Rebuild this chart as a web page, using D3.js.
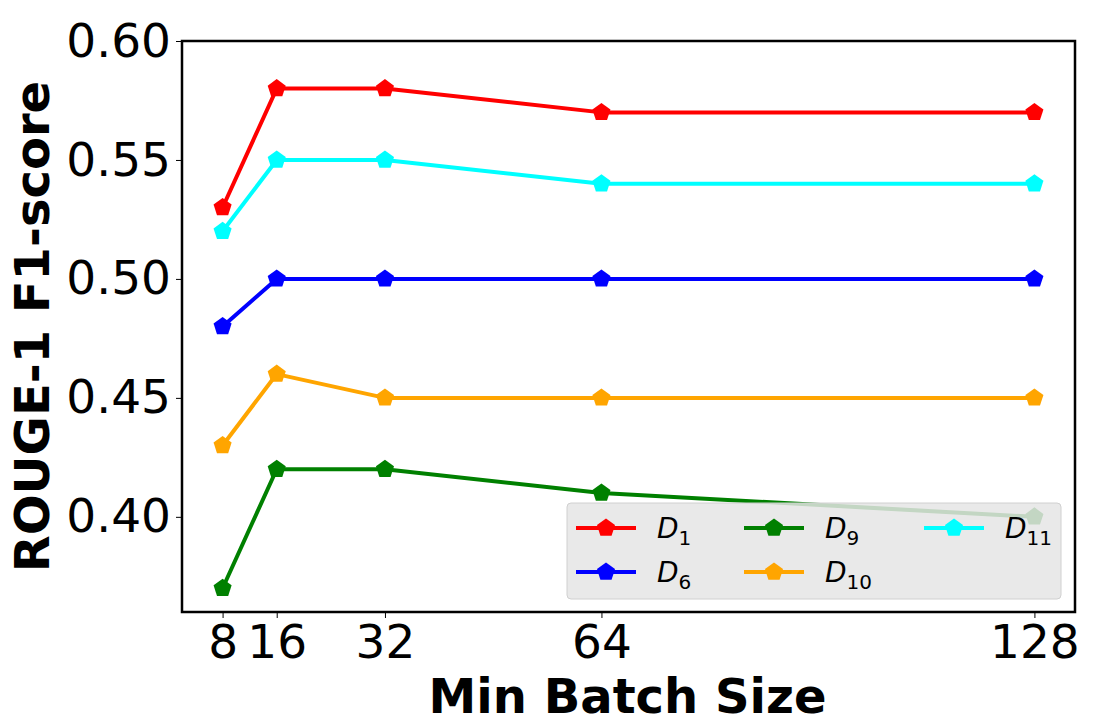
<!DOCTYPE html>
<html>
<head>
<meta charset="utf-8">
<script src="https://cdn.jsdelivr.net/npm/d3@7"></script>
<style>
  body { margin: 0; background: #fff; }
  text { font-family: "DejaVu Sans", sans-serif; }
</style>
</head>
<body>
<div id="chart"></div>
<script>
// data
var batchSizes = [8, 16, 32, 64, 128];
var seriesNames = ["D1", "D6", "D9", "D10", "D11"];
var seriesSubs  = ["1", "6", "9", "10", "11"];
var seriesColors = ["#ff0000", "#0000ff", "#008000", "#ffa500", "#00ffff"];
var d1  = [0.53, 0.58, 0.58, 0.57, 0.57];
var d6  = [0.48, 0.50, 0.50, 0.50, 0.50];
var d9  = [0.37, 0.42, 0.42, 0.41, 0.40];
var d10 = [0.43, 0.46, 0.45, 0.45, 0.45];
var d11 = [0.52, 0.55, 0.55, 0.54, 0.54];
var yTicks = [0.40, 0.45, 0.50, 0.55, 0.60];

var series = [d1, d6, d9, d10, d11].map(function(vals, i){
	return {name: seriesNames[i], sub: seriesSubs[i], color: seriesColors[i],
		points: vals.map(function(v, j){ return {x: batchSizes[j], y: v}; })};
});

var W = 1111, H = 724;
var margin = {top: 41, right: 36, bottom: 112, left: 182};
var width = W - margin.left - margin.right;
var height = H - margin.top - margin.bottom;

var svg = d3.select("#chart").append("svg")
	.attr("width", W).attr("height", H);

var x = d3.scaleLinear().domain([2, 134]).range([0, width]);
var y = d3.scaleLinear().domain([0.36, 0.60]).range([height, 0]);

var g = svg.append("g")
	.attr("transform", "translate(" + margin.left + "," + margin.top + ")");

// pentagon marker
var pent = function(r){
	var pts = [];
	for (var k = 0; k < 5; k++) {
		var a = -Math.PI/2 + k * 2*Math.PI/5;
		pts.push([r*Math.cos(a), r*Math.sin(a)]);
	}
	return "M" + pts.map(function(p){ return p.join(","); }).join("L") + "Z";
};

var line = d3.line().x(function(d){ return x(d.x); }).y(function(d){ return y(d.y); });

series.forEach(function(s){
	g.append("path").datum(s.points)
		.attr("d", line)
		.attr("fill", "none")
		.attr("stroke", s.color)
		.attr("stroke-width", 4)
		.attr("stroke-linejoin", "round");
	g.selectAll(null).data(s.points).enter().append("path")
		.attr("d", pent(9.5))
		.attr("transform", function(d){ return "translate(" + x(d.x) + "," + y(d.y) + ")"; })
		.attr("fill", s.color);
});

// axes
var xAxis = d3.axisBottom(x).tickValues(batchSizes).tickSize(6).tickPadding(7);
var yAxis = d3.axisLeft(y).tickValues(yTicks).tickFormat(d3.format(".2f")).tickSize(6).tickPadding(5);

var gx = g.append("g").attr("transform", "translate(0," + height + ")").call(xAxis);
var gy = g.append("g").call(yAxis);
[gx, gy].forEach(function(ax){
	ax.select(".domain").remove();
	ax.selectAll(".tick line").attr("stroke", "#000").attr("stroke-width", 1);
	ax.selectAll(".tick text").attr("font-size", 47).attr("fill", "#000")
		.style("font-family", "DejaVu Sans");
});

g.append("rect").attr("width", width).attr("height", height)
	.attr("fill", "none").attr("stroke", "#000").attr("stroke-width", 2.5);

// axis titles
svg.append("text")
	.attr("x", margin.left + width/2 - 1).attr("y", 713)
	.attr("text-anchor", "middle")
	.attr("font-size", 48).attr("font-weight", "bold")
	.text("Min Batch Size");

svg.append("text")
	.attr("transform", "translate(49," + (margin.top + height/2) + ") rotate(-90)")
	.attr("text-anchor", "middle")
	.attr("font-size", 48).attr("font-weight", "bold")
	.text("ROUGE-1 F1-score");

// legend
var legend = svg.append("g").attr("transform", "translate(567,503)");
legend.append("rect")
	.attr("width", 494).attr("height", 96).attr("rx", 4)
	.attr("fill", "#e5e5e5").attr("fill-opacity", 0.85)
	.attr("stroke", "#d0d0d0").attr("stroke-width", 1);

var colX = [9, 177, 357];
var rowY = [25, 69];
series.forEach(function(s, i){
	var col = Math.floor(i / 2), row = i % 2;
	var lg = legend.append("g").attr("transform", "translate(" + colX[col] + "," + rowY[row] + ")");
	lg.append("line").attr("x1", 0).attr("x2", 60)
		.attr("stroke", s.color).attr("stroke-width", 4);
	lg.append("path").attr("d", pent(9.5)).attr("transform", "translate(30,0)").attr("fill", s.color);
	var t = lg.append("text").attr("x", 81).attr("y", 10).attr("font-size", 28);
	t.append("tspan").attr("font-style", "italic").text("D");
	t.append("tspan").attr("font-size", 20).attr("dy", 7).text(s.sub);
});
</script>
</body>
</html>
